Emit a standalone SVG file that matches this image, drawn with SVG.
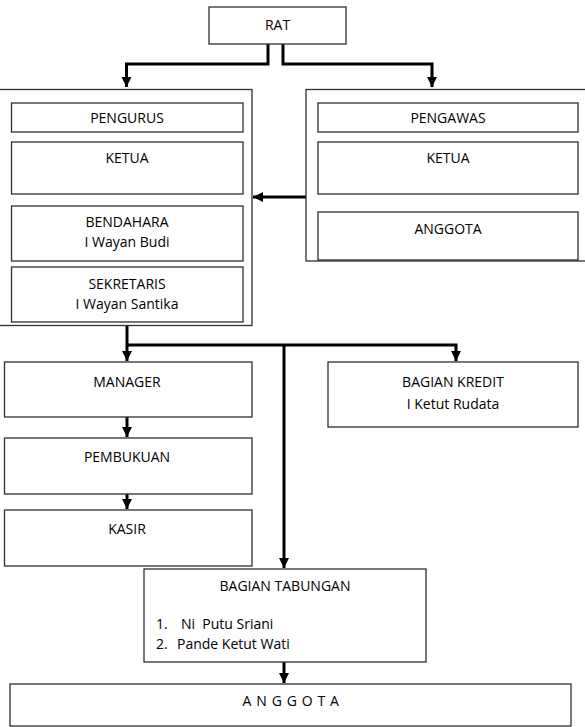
<svg xmlns="http://www.w3.org/2000/svg" width="585" height="727" viewBox="0 0 585 727">
<style>
.box{fill:#fff;stroke:#2e2e2e;stroke-width:1.3}
.t{font-family:"Open Sans","Liberation Sans",sans-serif;font-size:14px;fill:#000;text-anchor:middle}
.l{text-anchor:start}
.c{fill:none;stroke:#000;stroke-width:3}
</style>
<defs>
<marker id="ah" viewBox="0 0 10 10" refX="10" refY="5" markerWidth="3.4" markerHeight="3.4" markerUnits="strokeWidth" orient="auto">
<path d="M0,0 L10,5 L0,10 z" fill="#000"/>
</marker>
</defs>
<rect width="585" height="727" fill="#fff"/>
<g id="connectors">
<path class="c" d="M268,44 V64 H126.5 V87" marker-end="url(#ah)"/>
<path class="c" d="M283,44 V64 H432 V87" marker-end="url(#ah)"/>
<path class="c" d="M306,197 H253" marker-end="url(#ah)"/>
<path class="c" d="M127,326 V361" marker-end="url(#ah)"/>
<path class="c" d="M127,345 H456 V361" marker-end="url(#ah)"/>
<path class="c" d="M284,345 V568" marker-end="url(#ah)"/>
<path class="c" d="M127,417 V437" marker-end="url(#ah)"/>
<path class="c" d="M127,494 V509" marker-end="url(#ah)"/>
<path class="c" d="M284,662 V683" marker-end="url(#ah)"/>
</g>
<g id="rat"><rect class="box" x="209" y="7" width="137" height="37"/><text class="t" x="277.5" y="30">RAT</text></g>
<g id="pengurus">
<rect class="box" x="-1" y="89.5" width="253" height="236"/>
<g id="pengurus-header"><rect class="box" x="11.5" y="103" width="231.5" height="29"/><text class="t" x="127" y="123">PENGURUS</text></g>
<g id="pengurus-ketua"><rect class="box" x="11.5" y="142" width="231.5" height="52"/><text class="t" x="127" y="163">KETUA</text></g>
<g id="bendahara"><rect class="box" x="11.5" y="206" width="231.5" height="55"/><text class="t" x="127" y="227">BENDAHARA</text><text class="t" x="127" y="247">I Wayan Budi</text></g>
<g id="sekretaris"><rect class="box" x="11.5" y="267" width="231.5" height="55"/><text class="t" x="127" y="289">SEKRETARIS</text><text class="t" x="127" y="309">I Wayan Santika</text></g>
</g>
<g id="pengawas">
<rect class="box" x="306" y="89.5" width="285" height="171.5"/>
<g id="pengawas-header"><rect class="box" x="318" y="103" width="260" height="29"/><text class="t" x="448" y="123">PENGAWAS</text></g>
<g id="pengawas-ketua"><rect class="box" x="318" y="142" width="260" height="52"/><text class="t" x="448" y="163">KETUA</text></g>
<g id="pengawas-anggota"><rect class="box" x="318" y="212" width="260" height="48"/><text class="t" x="448" y="234">ANGGOTA</text></g>
</g>
<g id="manager"><rect class="box" x="4.5" y="362" width="247.5" height="55"/><text class="t" x="127" y="387">MANAGER</text></g>
<g id="pembukuan"><rect class="box" x="4.5" y="438" width="247.5" height="56"/><text class="t" x="127" y="462">PEMBUKUAN</text></g>
<g id="kasir"><rect class="box" x="4.5" y="510" width="247.5" height="56"/><text class="t" x="127" y="534">KASIR</text></g>
<g id="kredit"><rect class="box" x="328" y="362" width="250" height="65"/><text class="t" x="453" y="387">BAGIAN KREDIT</text><text class="t" x="453" y="409">I Ketut Rudata</text></g>
<g id="tabungan"><rect class="box" x="144" y="569" width="282" height="93"/><text class="t" x="285" y="591">BAGIAN TABUNGAN</text><text class="t l" x="156" y="629" xml:space="preserve">1.<tspan x="181">Ni  Putu Sriani</tspan></text><text class="t l" x="156" y="649">2.<tspan x="177">Pande Ketut Wati</tspan></text></g>
<g id="anggota"><rect class="box" x="10" y="684" width="561" height="42"/><text class="t" x="291" y="706" letter-spacing="0.6">A N G G O T A</text></g>
</svg>
